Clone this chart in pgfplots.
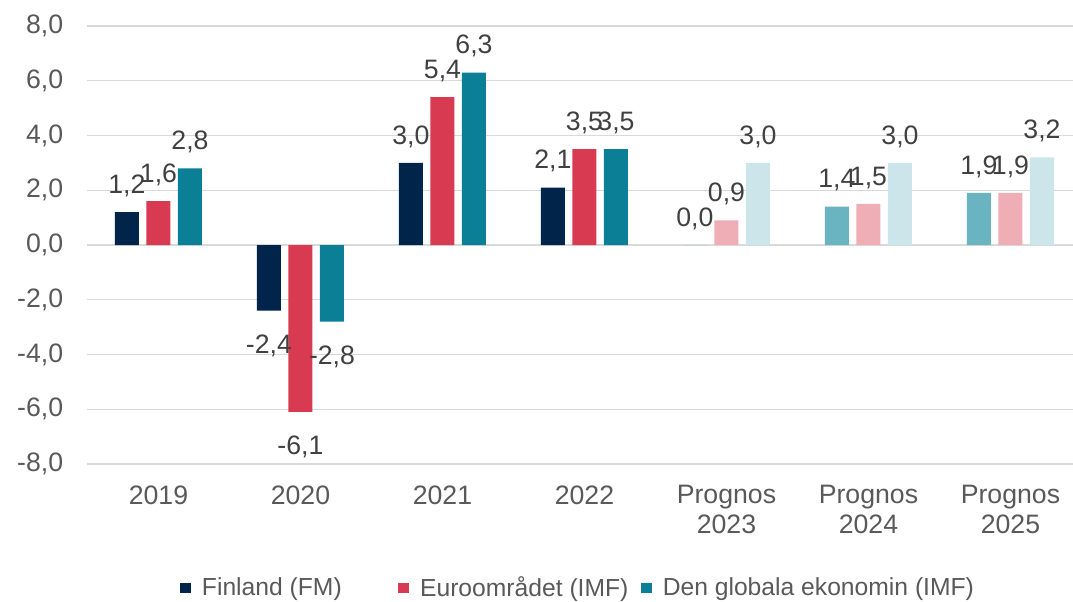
\documentclass[border=0pt]{standalone}
\usepackage{fontspec}
\setmainfont{Liberation Sans}
\usepackage{pgfplots}
\pgfplotsset{compat=1.18}
\definecolor{fin}{HTML}{00244A}
\definecolor{eur}{HTML}{D83A52}
\definecolor{glob}{HTML}{0A7F96}
\definecolor{finp}{HTML}{6AB3C1}
\definecolor{eurp}{HTML}{EFADB6}
\definecolor{globp}{HTML}{CBE5EB}
\definecolor{gridc}{HTML}{D9D9D9}
\definecolor{txt}{HTML}{404040}
\definecolor{tickc}{HTML}{595959}
\begin{document}
\begin{tikzpicture}
\begin{axis}[
  at={(65.6pt,103.5pt)}, anchor=south west,
  width=739.1pt, height=328.5pt, scale only axis,
  xmin=-0.5, xmax=6.44, ymin=-8, ymax=8,
  ytick={-8,-6,...,8},
  xtick={0,...,6},
  xticklabels={2019,2020,2021,2022,{Prognos\\2023},{Prognos\\2024},{Prognos\\2025}},
  ymajorgrids, grid style={gridc, line width=1pt},
  axis line style={draw=none},
  major tick length=0pt,
  tick label style={font=\fontsize{20}{22.3}\selectfont, text=tickc},
  xticklabel style={align=center, anchor=north, inner ysep=0pt, yshift=-16pt},
  yticklabel style={anchor=east, inner xsep=0pt, xshift=-18pt},
  /pgf/number format/.cd, fixed, fixed zerofill, precision=1, use comma, assume math mode=true, /pgfplots/.cd,
  ybar, bar width=0.169,
  nodes near coords,
  visualization depends on={rawy \as \rawy},
  every node near coord/.append style={font=\fontsize{20}{22}\selectfont, text=txt, inner ysep=11.25pt, inner xsep=0pt, yshift={ifthenelse(\rawy<0,-6.75,0)}},
  legend columns=3,
  legend style={at={(0.5,0)}, anchor=center, xshift=-1.3pt, yshift=-93pt, draw=none, fill=none,
    font=\fontsize{18.5}{20}\selectfont, text=tickc,
    /tikz/every odd column/.append style={column sep=6pt},
    /tikz/every even column/.append style={column sep=7.5pt}},
  legend cell align=left,
  clip=false,
  sq/.style={legend image code/.code={\fill[##1] (0pt,-4.1pt) rectangle (8.25pt,4.1pt);}},
]
\addplot[fill=fin, draw=none, bar shift=-0.222, sq] coordinates {(0,1.2)(1,-2.4)(2,3.0)(3,2.1)};
\addlegendentry{Finland (FM)\kern33pt}
\addplot[fill=eur, draw=none, bar shift=0, sq] coordinates {(0,1.6)(1,-6.1)(2,5.4)(3,3.5)};
\addlegendentry{Euroområdet (IMF)}
\addplot[fill=glob, draw=none, bar shift=0.222, sq] coordinates {(0,2.8)(1,-2.8)(2,6.3)(3,3.5)};
\addlegendentry{Den globala ekonomin (IMF)}
\addplot[fill=finp, draw=none, bar shift=-0.222, forget plot] coordinates {(4,0.0)(5,1.4)(6,1.9)};
\addplot[fill=eurp, draw=none, bar shift=0, forget plot] coordinates {(4,0.9)(5,1.5)(6,1.9)};
\addplot[fill=globp, draw=none, bar shift=0.222, forget plot] coordinates {(4,3.0)(5,3.0)(6,3.2)};
\end{axis}
\pgfresetboundingbox
\useasboundingbox (0,0) rectangle (804.75pt,451.5pt);
\end{tikzpicture}
\end{document}
